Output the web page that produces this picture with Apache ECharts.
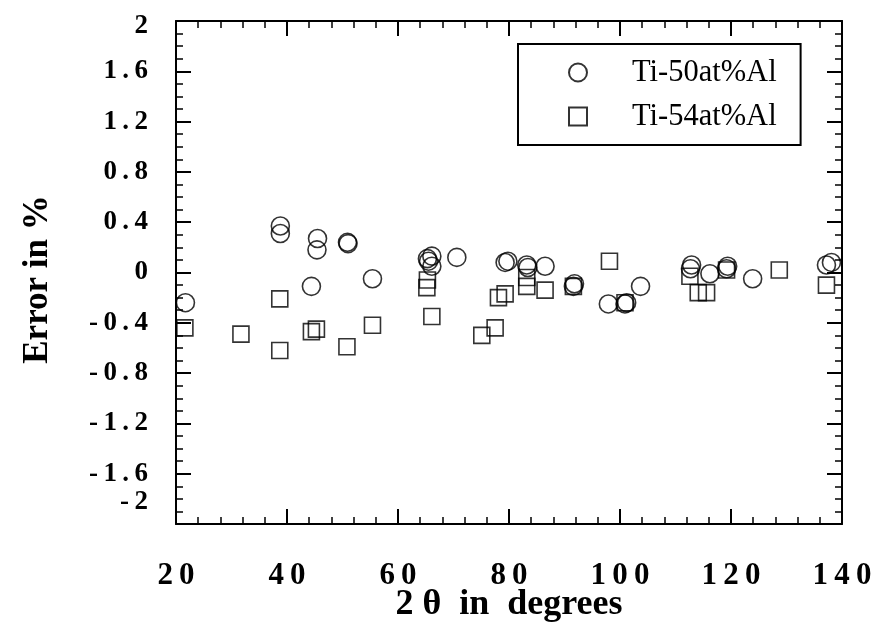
<!DOCTYPE html>
<html>
<head>
<meta charset="utf-8">
<script src="https://cdn.jsdelivr.net/npm/echarts@6/dist/echarts.min.js"></script>
<style>
  html, body { margin: 0; padding: 0; background: #fff; }
  #chart { width: 877px; height: 627px; }
</style>
</head>
<body>
<div id="chart"></div>
<script>
// Ti-50at%Al (circles): [2theta, error %]
var ti50 = [
  [21.7, -0.24], [38.8, 0.37], [38.8, 0.31], [44.4, -0.11], [45.5, 0.27],
  [45.4, 0.18], [50.9, 0.24], [51.0, 0.23], [55.4, -0.05], [65.5, 0.09],
  [66.1, 0.13], [66.1, 0.05], [65.3, 0.11], [70.6, 0.12], [79.3, 0.08],
  [79.8, 0.09], [83.2, 0.06], [83.4, 0.04], [86.5, 0.05], [91.6, -0.11],
  [91.8, -0.09], [97.9, -0.25], [100.9, -0.25], [101.2, -0.24], [103.7, -0.11],
  [112.9, 0.06], [112.7, 0.03], [116.2, -0.01], [119.2, 0.03], [119.4, 0.05],
  [123.9, -0.05], [137.2, 0.06], [138.1, 0.08]
]
// Ti-54at%Al (squares)
var ti54 = [
  [21.6, -0.44], [31.7, -0.49], [38.7, -0.21], [38.7, -0.62], [44.4, -0.47],
  [45.3, -0.45], [50.8, -0.59], [55.4, -0.42], [65.2, -0.12], [65.3, -0.06],
  [66.1, -0.35], [75.1, -0.50], [77.5, -0.44], [78.1, -0.20], [79.3, -0.17],
  [83.2, -0.11], [83.2, -0.04], [86.5, -0.14], [91.6, -0.11], [98.1, 0.09],
  [100.9, -0.24], [112.6, -0.03], [114.1, -0.16], [115.6, -0.16], [119.2, 0.02],
  [128.7, 0.02], [137.2, -0.10]
]
var seriesNames = ['Ti-50at%Al', 'Ti-54at%Al']
var xTicks = { min: 20, max: 140, step: 20 }
var yTicks = { min: -2, max: 2, step: 0.4 }

var serif = 'Liberation Serif, Times New Roman, serif'

// spaced-out digits like the original typesetting
function spaced (v) {
  var s = String(Math.round(v * 10) / 10)
  return s.split('').join('\u2009')
}

// y labels: the end labels are pulled inside the frame
function yLabel (v) {
  var key = 'a'
  if (v <= yTicks.min) key = 'lo'
  else if (v >= yTicks.max) key = 'hi'
  return '{' + key + '|' + spaced(v) + '}'
}

function axisBase (extra) {
  var base = {
    axisLine: { show: true, onZero: false, lineStyle: { color: '#000', width: 2 } },
    axisTick: { show: true, inside: true, length: 15, lineStyle: { color: '#000', width: 2 } },
    splitLine: { show: false }
  }
  return Object.assign(base, extra)
}

var chart = echarts.init(document.getElementById('chart'))
var yLabelFont = { fontFamily: serif, fontWeight: 'bold', fontSize: 27, color: '#000' }
var option = {
  backgroundColor: '#fff',
  animation: false,
  grid: { left: 176, right: 35, top: 21, bottom: 103, outerBoundsMode: 'none', containLabel: false },
  legend: {
    orient: 'vertical',
    left: 518,
    top: 44,
    padding: [13, 24, 13, 50],
    itemGap: 13,
    itemWidth: 18,
    itemHeight: 18,
    backgroundColor: '#fff',
    borderColor: '#000',
    borderWidth: 2,
    borderRadius: 0,
    textStyle: { fontFamily: serif, fontSize: 30.5, color: '#000', padding: [0, 0, 0, 40], lineHeight: 30 },
    data: seriesNames
  },
  xAxis: [
    axisBase({
      type: 'value',
      position: 'bottom',
      min: xTicks.min,
      max: xTicks.max,
      interval: xTicks.step,
      minorTick: { show: true, splitNumber: 5, length: 7, lineStyle: { color: '#000', width: 1.5 } },
      axisLabel: {
        margin: 36,
        showMinLabel: true,
        showMaxLabel: true,
        hideOverlap: false,
        fontFamily: serif,
        fontWeight: 'bold',
        fontSize: 31,
        color: '#000',
        formatter: spaced
      },
      name: '2 θ  in  degrees',
      nameLocation: 'middle',
      nameGap: 63,
      nameMoveOverlap: false,
      nameTextStyle: { fontFamily: serif, fontWeight: 'bold', fontSize: 36, color: '#000' }
    }),
    axisBase({
      type: 'value',
      position: 'top',
      min: xTicks.min,
      max: xTicks.max,
      interval: xTicks.step,
      minorTick: { show: true, splitNumber: 5, length: 7, lineStyle: { color: '#000', width: 1.5 } },
      axisLabel: { show: false }
    })
  ],
  yAxis: [
    axisBase({
      type: 'value',
      position: 'left',
      min: yTicks.min,
      max: yTicks.max,
      interval: yTicks.step,
      minorTick: { show: true, splitNumber: 4, length: 7, lineStyle: { color: '#000', width: 1.5 } },
      axisLabel: {
        margin: 28,
        showMinLabel: true,
        showMaxLabel: true,
        hideOverlap: false,
        formatter: yLabel,
        rich: {
          a: Object.assign({ lineHeight: 14 }, yLabelFont),
          lo: Object.assign({ lineHeight: 10, padding: [0, 0, 44, 0] }, yLabelFont),
          hi: Object.assign({ lineHeight: 10, padding: [10, 0, 0, 0] }, yLabelFont)
        }
      },
      name: 'Error in %',
      nameLocation: 'middle',
      nameGap: 121,
      nameRotate: 90,
      nameMoveOverlap: false,
      nameTextStyle: { fontFamily: serif, fontWeight: 'bold', fontSize: 35, color: '#000', padding: [0, 14, 0, 0] }
    }),
    axisBase({
      type: 'value',
      position: 'right',
      min: yTicks.min,
      max: yTicks.max,
      interval: yTicks.step,
      minorTick: { show: true, splitNumber: 4, length: 7, lineStyle: { color: '#000', width: 1.5 } },
      axisLabel: { show: false }
    })
  ],
  series: [
    {
      name: seriesNames[0],
      type: 'scatter',
      symbol: 'circle',
      symbolSize: 18,
      itemStyle: { color: 'rgba(255,255,255,0)', borderColor: '#000', borderWidth: 1.6 },
      data: ti50
    },
    {
      name: seriesNames[1],
      type: 'scatter',
      symbol: 'rect',
      symbolSize: 16,
      itemStyle: { color: 'rgba(255,255,255,0)', borderColor: '#000', borderWidth: 1.6 },
      data: ti54
    }
  ]
}
chart.setOption(option)
</script>
</body>
</html>
